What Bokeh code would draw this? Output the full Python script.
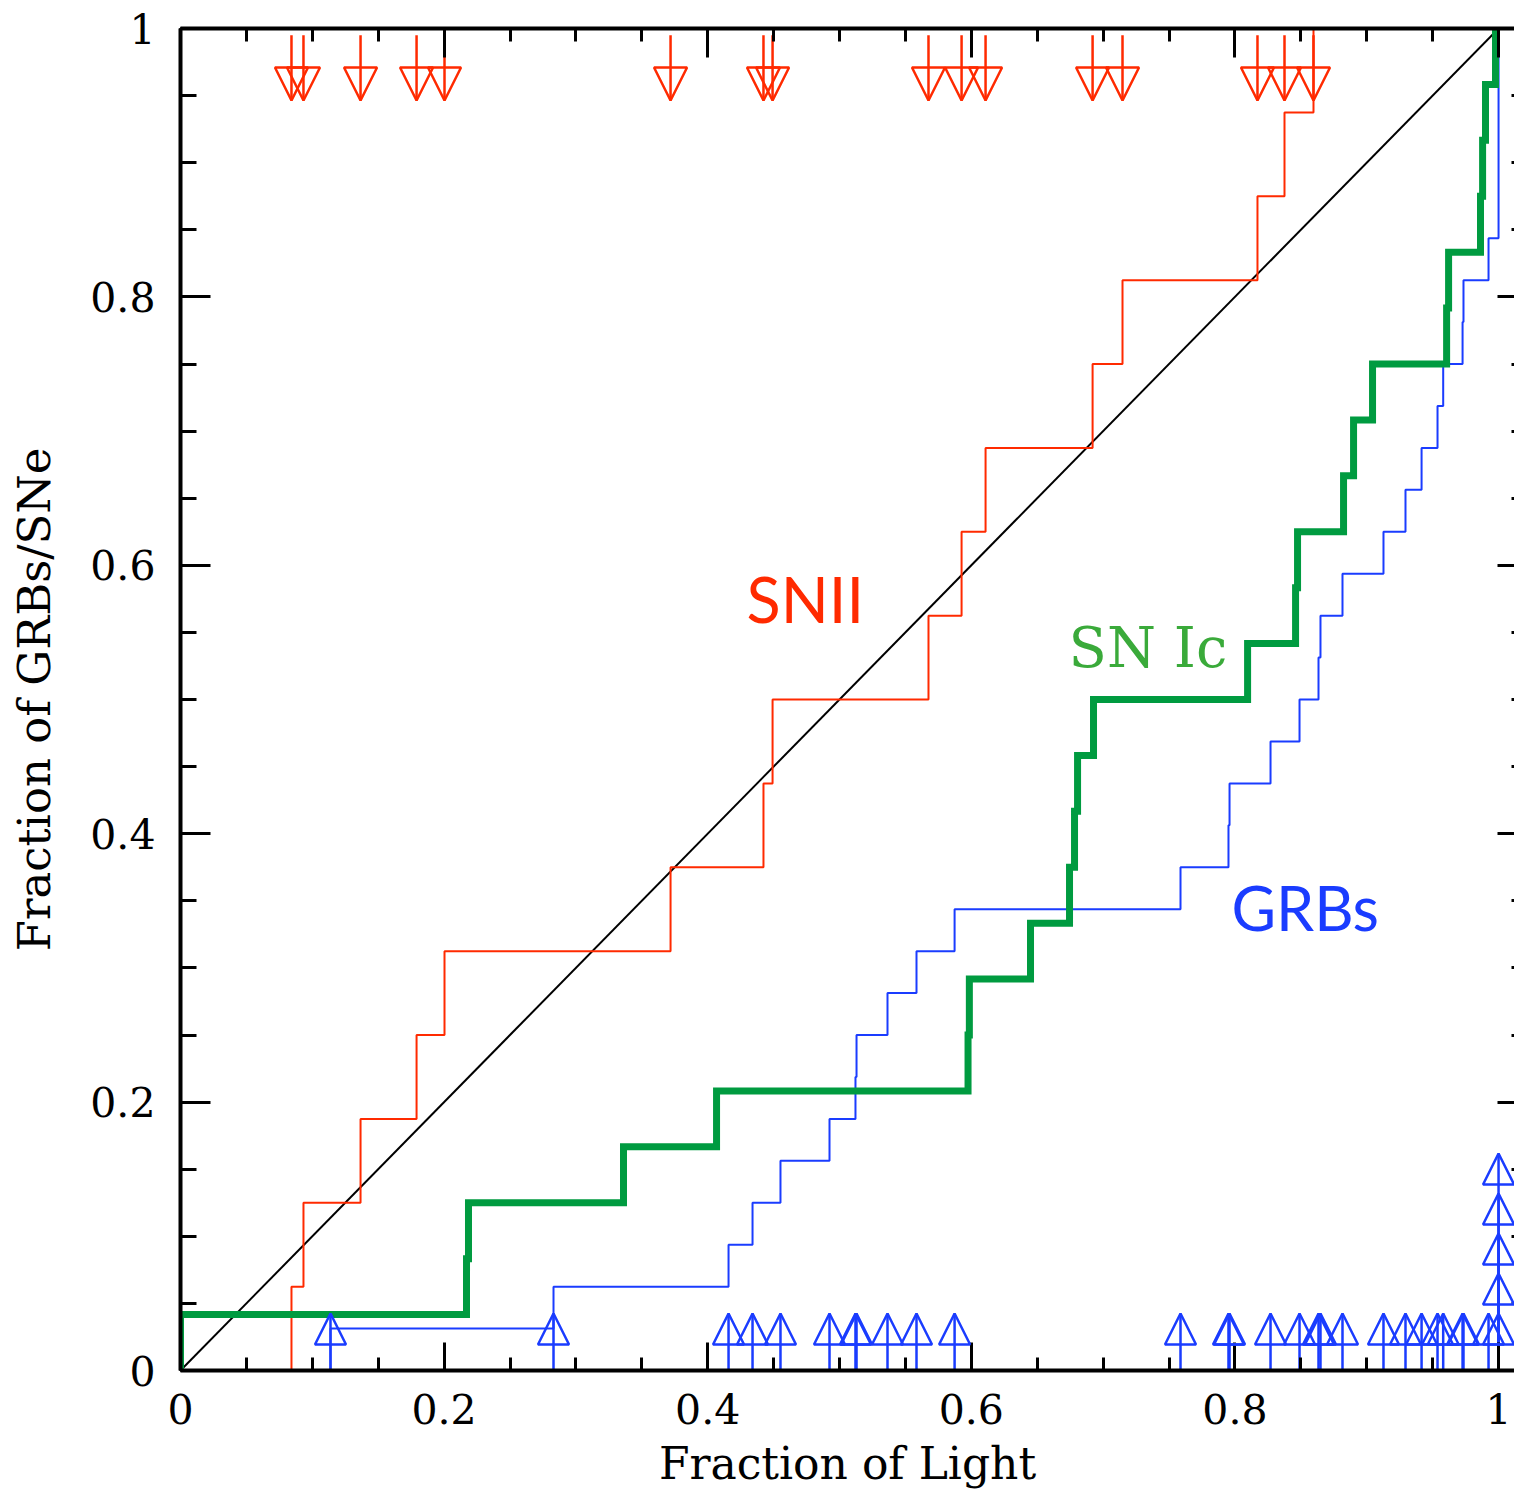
from bokeh.plotting import figure
from bokeh.models import (ColumnDataSource, FixedTicker, LinearAxis, Range1d,
                          Arrow, NormalHead, Label)
from bokeh.embed import file_html
from bokeh.resources import INLINE

# ---------------- data ----------------
snii_x = [0.0842, 0.0933, 0.1366, 0.1791, 0.2003, 0.3718, 0.4423, 0.4492,
          0.5675, 0.5926, 0.6108, 0.6920, 0.7147, 0.8171, 0.8376, 0.8596]

snic_x = [0.0, 0.2170, 0.2185, 0.3361, 0.4067, 0.5975, 0.5985, 0.6449,
          0.6745, 0.6783, 0.6806, 0.6927, 0.8096, 0.8460, 0.8475, 0.8824,
          0.8900, 0.9044, 0.9606, 0.9621, 0.9863, 0.9879, 0.9901, 0.9977]

grb_x = [0.1138, 0.2830, 0.4158, 0.4340, 0.4552, 0.4924, 0.5121, 0.5129,
         0.5364, 0.5584, 0.5873, 0.7587, 0.7951, 0.7959, 0.8270, 0.8490,
         0.8634, 0.8649, 0.8816, 0.9127, 0.9294, 0.9416, 0.9537, 0.9580,
         0.9727, 0.9734, 0.9924, 1.0, 1.0, 1.0, 1.0, 1.0]

x_ticks = [0, 0.2, 0.4, 0.6, 0.8, 1]
x_tick_labels = ["0", "0.2", "0.4", "0.6", "0.8", "1"]
y_ticks = [0, 0.2, 0.4, 0.6, 0.8, 1]
y_tick_labels = ["0", "0.2", "0.4", "0.6", "0.8", "1"]
minor_ticks = [round(0.05 * i, 2) for i in range(21)]

labels_text = ["SNII", "SN Ic", "GRBs"]

RED = "#ff2a00"
BLUE = "#1a3cff"
GREEN = "#009b40"
GREEN_TXT = "#3aaa3a"
SERIF = "DejaVu Serif"
SANS = "Lato"


def cdf(xs):
    xs = sorted(xs)
    n = len(xs)
    return [xs[0]] + xs, [0.0] + [(i + 1) / n for i in range(n)]


p = figure(width=1514, height=1492,
           x_range=Range1d(0, 1.0121), y_range=Range1d(0, 1),
           output_backend="svg", toolbar_location=None,
           x_axis_location=None, y_axis_location=None,
           min_border_left=180, min_border_right=0,
           min_border_top=28, min_border_bottom=122)
p.grid.visible = False
p.outline_line_color = None
p.background_fill_color = "white"
p.border_fill_color = "white"


def mk_axis(ticks, labels, tick_in, minor_in, show_labels, line=True):
    ax = LinearAxis(ticker=FixedTicker(ticks=ticks, minor_ticks=minor_ticks))
    ax.major_label_overrides = dict(zip(ticks, labels))
    ax.major_tick_in = tick_in
    ax.major_tick_out = 0
    ax.minor_tick_in = minor_in
    ax.minor_tick_out = 0
    ax.major_tick_line_width = 3
    ax.minor_tick_line_width = 3
    ax.major_tick_line_color = "black"
    ax.minor_tick_line_color = "black"
    if line:
        ax.axis_line_width = 4
        ax.axis_line_color = "black"
    else:
        ax.axis_line_color = None
    if show_labels:
        ax.major_label_text_font = SERIF
        ax.major_label_text_font_size = "41px"
        ax.major_label_text_color = "black"
    else:
        ax.major_label_text_color = None
        ax.major_label_standoff = 0
    return ax


xb = mk_axis(x_ticks, x_tick_labels, 28, 13, True)
xb.axis_label = "Fraction of Light"
xb.axis_label_text_font = SERIF
xb.axis_label_text_font_style = "normal"
xb.axis_label_text_font_size = "44px"
xb.axis_label_text_color = "black"
xb.major_label_standoff = 23
xb.axis_label_standoff = 11
p.add_layout(xb, "below")

yl = mk_axis(y_ticks, y_tick_labels, 30, 16, True)
yl.axis_label = "Fraction of GRBs/SNe"
yl.axis_label_text_font = SERIF
yl.axis_label_text_font_style = "normal"
yl.axis_label_text_font_size = "45px"
yl.axis_label_text_color = "black"
yl.major_label_standoff = 25
yl.axis_label_standoff = 26
p.add_layout(yl, "left")

xt = mk_axis(x_ticks, x_tick_labels, 29, 13, False)
p.add_layout(xt, "above")
yr = mk_axis(y_ticks, y_tick_labels, 17, 3, False, line=False)
p.add_layout(yr, "right")

# diagonal
p.line(x=[0, 1], y=[0, 1], line_color="black", line_width=2)

# cumulative distributions
rx, ry = cdf(snii_x)
p.step(x=rx, y=ry, mode="after", line_color=RED, line_width=2)
bx, by = cdf(grb_x)
p.step(x=bx, y=by, mode="after", line_color=BLUE, line_width=2)
gx, gy = cdf(snic_x)
p.step(x=gx, y=gy, mode="after", line_color=GREEN, line_width=7,
       line_join="miter")

# red limit arrows (top, pointing down)
RED_TOP, RED_TIP = 0.995, 0.9463
rsrc = ColumnDataSource(dict(x=snii_x, y0=[RED_TOP] * len(snii_x),
                             y1=[RED_TIP] * len(snii_x)))
p.segment(x0="x", y0="y0", x1="x", y1="y1", source=rsrc,
          line_color=RED, line_width=2.5)
p.add_layout(Arrow(end=NormalHead(size=33, fill_color=None, line_color=RED,
                                  line_width=2.5),
                   x_start="x", y_start="y0", x_end="x", y_end="y1",
                   source=rsrc, line_alpha=0))

# blue limit arrows (bottom, pointing up); ones at x=1 are stacked
BLUE_TIP, STACK = 0.0425, 0.0298
tips = []
k = 0
for v in grb_x:
    if v >= 0.9999:
        tips.append(BLUE_TIP + k * STACK)
        k += 1
    else:
        tips.append(BLUE_TIP)
bsrc = ColumnDataSource(dict(x=grb_x, y0=[0.0] * len(grb_x), y1=tips))
p.segment(x0="x", y0="y0", x1="x", y1="y1", source=bsrc,
          line_color=BLUE, line_width=2.5)
p.add_layout(Arrow(end=NormalHead(size=31, fill_color=None, line_color=BLUE,
                                  line_width=2.5),
                   x_start="x", y_start="y0", x_end="x", y_end="y1",
                   source=bsrc, line_alpha=0))

# curve labels
p.add_layout(Label(x=0.4294, y=0.5752, text=labels_text[0], text_font=SANS,
                   text_font_size="63px", text_color=RED,
                   text_baseline="alphabetic"))
p.add_layout(Label(x=0.6738, y=0.5391, text=labels_text[1], text_font=SERIF,
                   text_font_size="56px", text_color=GREEN_TXT,
                   text_baseline="alphabetic"))
p.add_layout(Label(x=0.7974, y=0.3450, text=labels_text[2], text_font=SANS,
                   text_font_size="61px", text_color=BLUE,
                   text_baseline="alphabetic"))

open("out.html", "w").write(file_html(p, INLINE))
